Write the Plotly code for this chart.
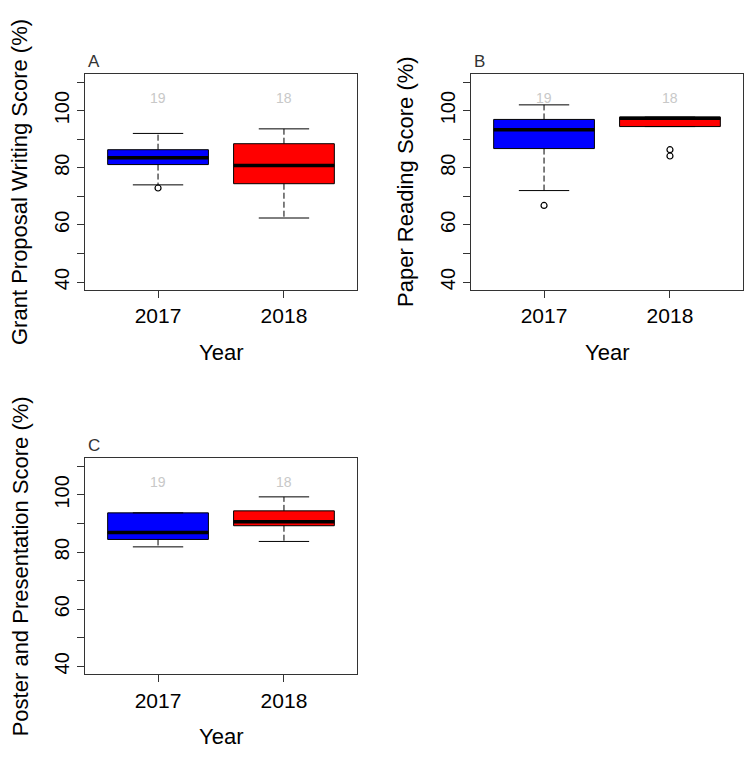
import plotly.graph_objects as go

# ---------------- data ----------------
years = ["2017", "2018"]
x_pos = [1, 2]
n_labels = ["19", "18"]

grant_q1 = [81.1, 74.4]
grant_med = [83.5, 80.8]
grant_q3 = [86.3, 88.4]
grant_lw = [74.0, 62.4]
grant_uw = [92.0, 93.6]
grant_out = [[72.9], []]

paper_q1 = [86.7, 94.4]
paper_med = [93.3, 97.3]
paper_q3 = [96.9, 97.7]
paper_lw = [72.0, 94.4]
paper_uw = [102.0, 97.7]
paper_out = [[66.8], [86.3, 84.1]]

poster_q1 = [84.4, 89.2]
poster_med = [86.8, 90.6]
poster_q3 = [93.7, 94.4]
poster_lw = [81.8, 83.7]
poster_uw = [93.7, 99.3]
poster_out = [[], []]

box_colors = ["#0000FF", "#FF0000"]
y_titles = ["Grant Proposal Writing Score (%)", "Paper Reading Score (%)",
            "Poster and Presentation Score (%)"]
panel_letters = ["A", "B", "C"]
y_tickvals = [40, 50, 60, 70, 80, 90, 100, 110]
y_ticktext = ["40", "", "60", "", "80", "", "100", ""]

# ---------------- layout geometry ----------------
W, H = 754, 757
FONT = "Arial, 'Liberation Sans', sans-serif"
panels = [
    dict(xd=[85 / W, 357 / W], yd=[1 - 290 / H, 1 - 74 / H]),
    dict(xd=[471 / W, 743 / W], yd=[1 - 290 / H, 1 - 74 / H]),
    dict(xd=[85 / W, 357 / W], yd=[1 - 674.3 / H, 1 - 458.3 / H]),
]
datasets = [
    (grant_q1, grant_med, grant_q3, grant_lw, grant_uw, grant_out),
    (paper_q1, paper_med, paper_q3, paper_lw, paper_uw, paper_out),
    (poster_q1, poster_med, poster_q3, poster_lw, poster_uw, poster_out),
]

fig = go.Figure()
annotations = []
BOX_W = 0.8
CAP_W = 0.4

for p, (pan, ds) in enumerate(zip(panels, datasets)):
    sfx = "" if p == 0 else str(p + 1)
    xa, ya = "x" + sfx, "y" + sfx
    q1, med, q3, lw, uw, outs = ds
    for i in range(2):
        xc = x_pos[i]
        # box body
        fig.add_trace(go.Box(
            x=[xc], q1=[q1[i]], median=[med[i]], q3=[q3[i]],
            lowerfence=[q1[i]], upperfence=[q3[i]],
            width=BOX_W, fillcolor=box_colors[i],
            line=dict(color="black", width=1), boxpoints=False,
            whiskerwidth=0, xaxis=xa, yaxis=ya, showlegend=False,
            hoverinfo="skip"))
        # dashed whiskers
        fig.add_trace(go.Scatter(
            x=[xc, xc, None, xc, xc], y=[q3[i], uw[i], None, q1[i], lw[i]],
            mode="lines", line=dict(color="black", width=1, dash="6px,3px"),
            xaxis=xa, yaxis=ya, showlegend=False, hoverinfo="skip"))
        # caps
        fig.add_trace(go.Scatter(
            x=[xc - CAP_W / 2, xc + CAP_W / 2, None, xc - CAP_W / 2, xc + CAP_W / 2],
            y=[uw[i], uw[i], None, lw[i], lw[i]],
            mode="lines", line=dict(color="black", width=1),
            xaxis=xa, yaxis=ya, showlegend=False, hoverinfo="skip"))
        # thick median
        fig.add_trace(go.Scatter(
            x=[xc - BOX_W / 2, xc + BOX_W / 2], y=[med[i], med[i]],
            mode="lines", line=dict(color="black", width=3.5),
            xaxis=xa, yaxis=ya, showlegend=False, hoverinfo="skip"))
        # outliers
        if outs[i]:
            fig.add_trace(go.Scatter(
                x=[xc] * len(outs[i]), y=outs[i], mode="markers",
                marker=dict(symbol="circle-open", size=6, color="black",
                            line=dict(width=1.2)),
                xaxis=xa, yaxis=ya, showlegend=False, hoverinfo="skip"))
        # sample size labels
        annotations.append(dict(
            x=xc, y=104.5, xref=xa, yref=ya, text=n_labels[i], showarrow=False,
            font=dict(family=FONT, size=14, color="#c8c8c8")))

    axis_common = dict(showline=True, mirror=True, linecolor="#333333", linewidth=1,
                       ticks="outside", ticklen=7, tickcolor="#333333",
                       showgrid=False, zeroline=False)
    fig.update_layout(**{
        "xaxis" + sfx: dict(domain=pan["xd"], range=[0.42, 2.58], tickvals=x_pos,
                            ticktext=years, anchor=ya,
                            tickfont=dict(family=FONT, size=21, color="black"),
                            ticklabelstandoff=0, **axis_common),
        "yaxis" + sfx: dict(domain=pan["yd"], range=[37.2, 112.8], tickvals=y_tickvals,
                            ticktext=y_ticktext, tickangle=-90, anchor=xa,
                            tickfont=dict(family=FONT, size=20, color="black"),
                            ticklabelstandoff=0, **axis_common),
    })
    xmid = (pan["xd"][0] + pan["xd"][1]) / 2
    ymid = (pan["yd"][0] + pan["yd"][1]) / 2
    # y title
    annotations.append(dict(
        x=pan["xd"][0] - 65 / W, y=ymid, xref="paper", yref="paper",
        xanchor="center", yanchor="middle",
        text=y_titles[p], textangle=-90, showarrow=False,
        font=dict(family=FONT, size=22, color="black")))
    # x title
    annotations.append(dict(
        x=xmid, y=pan["yd"][0] - 62 / H, xref="paper", yref="paper",
        xanchor="center", yanchor="middle",
        text="Year", showarrow=False,
        font=dict(family=FONT, size=22, color="black")))
    # panel letter
    annotations.append(dict(
        x=pan["xd"][0] + 1 / W, y=pan["yd"][1] + 1 / H, xref="paper", yref="paper",
        text=panel_letters[p], showarrow=False, xanchor="left", yanchor="bottom",
        font=dict(family=FONT, size=17, color="#333333")))

fig.update_layout(
    width=W, height=H, margin=dict(l=0, r=0, t=0, b=0),
    paper_bgcolor="white", plot_bgcolor="white",
    boxmode="overlay", annotations=annotations, showlegend=False,
)

fig.write_html("out.html", config={"displayModeBar": False},
               post_script="document.body.style.margin='0';document.body.style.overflow='hidden';")
